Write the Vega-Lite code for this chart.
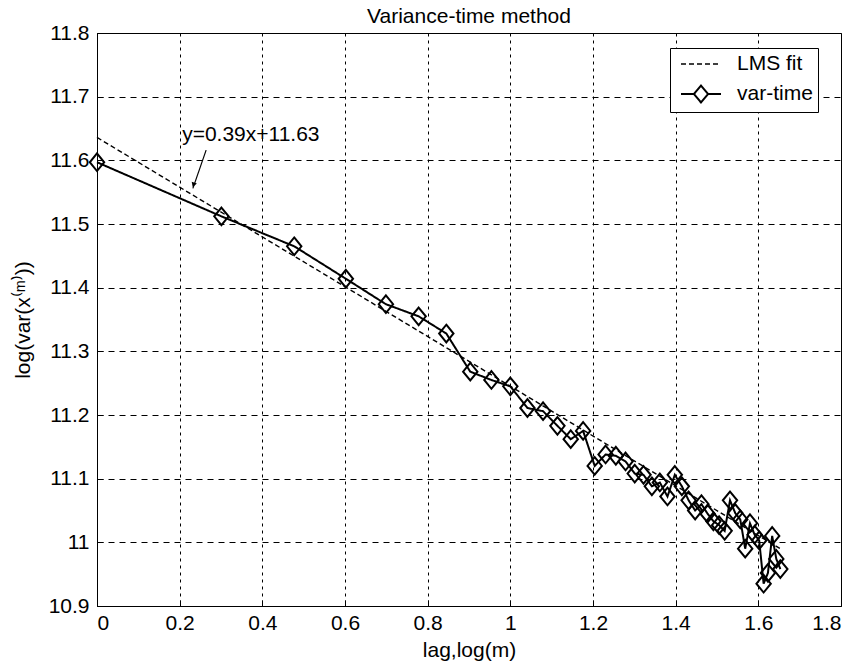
{
  "$schema": "https://vega.github.io/schema/vega-lite/v6.json",
  "autosize": {"type": "none"},
  "padding": {"left": 97, "top": 33, "right": 17, "bottom": 61},
  "width": 744,
  "height": 573,
  "background": "white",
  "title": {"text": "Variance-time method", "fontSize": 21, "fontWeight": "normal", "font": "Liberation Sans", "color": "black", "offset": 9, "dy": 14, "anchor": "middle"},
  "config": {
    "view": {"stroke": "black", "strokeWidth": 1},
    "axis": {
      "labelFont": "Liberation Sans", "labelFontSize": 21, "labelColor": "black",
      "titleFont": "Liberation Sans", "titleFontSize": 21, "titleFontWeight": "normal", "titleColor": "black",
      "domainColor": "black", "tickColor": "black", "tickSize": -6,
      "gridColor": "black", "gridOpacity": 1, "gridWidth": 1
    },
    "legend": {
      "title": null, "orient": "none", "legendX": 573, "legendY": 15,
      "padding": 5, "strokeColor": "black", "fillColor": "white",
      "symbolSize": 400, "symbolStrokeWidth": 1.8, "symbolStrokeColor": "black", "symbolFillColor": "transparent", "symbolOpacity": 1,
      "labelFontSize": 21, "labelFont": "Liberation Sans", "labelColor": "black",
      "labelOffset": 40, "rowPadding": 7
    }
  },
  "datasets": {
    "series": [
      {"x": 0, "y": 11.636, "series": "LMS fit"},
      {"x": 1.653, "y": 10.99, "series": "LMS fit"},
      {"x": 0, "y": 11.597, "series": "var-time"},
      {"x": 0.30103, "y": 11.512, "series": "var-time"},
      {"x": 0.47712, "y": 11.465, "series": "var-time"},
      {"x": 0.60206, "y": 11.414, "series": "var-time"},
      {"x": 0.69897, "y": 11.374, "series": "var-time"},
      {"x": 0.77815, "y": 11.355, "series": "var-time"},
      {"x": 0.8451, "y": 11.328, "series": "var-time"},
      {"x": 0.90309, "y": 11.268, "series": "var-time"},
      {"x": 0.95424, "y": 11.255, "series": "var-time"},
      {"x": 1.0, "y": 11.245, "series": "var-time"},
      {"x": 1.04139, "y": 11.211, "series": "var-time"},
      {"x": 1.07918, "y": 11.206, "series": "var-time"},
      {"x": 1.11394, "y": 11.183, "series": "var-time"},
      {"x": 1.14613, "y": 11.162, "series": "var-time"},
      {"x": 1.17609, "y": 11.175, "series": "var-time"},
      {"x": 1.20412, "y": 11.12, "series": "var-time"},
      {"x": 1.23045, "y": 11.138, "series": "var-time"},
      {"x": 1.25527, "y": 11.136, "series": "var-time"},
      {"x": 1.27875, "y": 11.127, "series": "var-time"},
      {"x": 1.30103, "y": 11.108, "series": "var-time"},
      {"x": 1.32222, "y": 11.106, "series": "var-time"},
      {"x": 1.34242, "y": 11.088, "series": "var-time"},
      {"x": 1.36173, "y": 11.094, "series": "var-time"},
      {"x": 1.38021, "y": 11.072, "series": "var-time"},
      {"x": 1.39794, "y": 11.106, "series": "var-time"},
      {"x": 1.41497, "y": 11.088, "series": "var-time"},
      {"x": 1.43136, "y": 11.066, "series": "var-time"},
      {"x": 1.44716, "y": 11.05, "series": "var-time"},
      {"x": 1.4624, "y": 11.06, "series": "var-time"},
      {"x": 1.47712, "y": 11.045, "series": "var-time"},
      {"x": 1.49136, "y": 11.033, "series": "var-time"},
      {"x": 1.50515, "y": 11.027, "series": "var-time"},
      {"x": 1.51851, "y": 11.018, "series": "var-time"},
      {"x": 1.53148, "y": 11.066, "series": "var-time"},
      {"x": 1.54407, "y": 11.046, "series": "var-time"},
      {"x": 1.5563, "y": 11.036, "series": "var-time"},
      {"x": 1.5682, "y": 10.99, "series": "var-time"},
      {"x": 1.57978, "y": 11.03, "series": "var-time"},
      {"x": 1.59106, "y": 11.012, "series": "var-time"},
      {"x": 1.60206, "y": 11.003, "series": "var-time"},
      {"x": 1.61278, "y": 10.935, "series": "var-time"},
      {"x": 1.62325, "y": 10.952, "series": "var-time"},
      {"x": 1.63347, "y": 11.01, "series": "var-time"},
      {"x": 1.64345, "y": 10.974, "series": "var-time"},
      {"x": 1.65321, "y": 10.958, "series": "var-time"}
    ],
    "note": [{"x": 0.206, "y": 11.64, "label": "y=0.39x+11.63"}],
    "arrow": [{"x": 0.264, "y": 11.616, "x2": 0.232, "y2": 11.556}],
    "arrowhead": [{"x": 0.2335, "y": 11.5615}]
  },
  "encoding": {
    "x": {"field": "x", "type": "quantitative",
      "scale": {"domain": [0, 1.8], "nice": false, "zero": false},
      "axis": {"title": "lag,log(m)", "values": [0, 0.2, 0.4, 0.6, 0.8, 1, 1.2, 1.4, 1.6, 1.8], "format": ".1~f", "gridDash": [3, 4], "labelPadding": 12, "titlePadding": 6}},
    "y": {"field": "y", "type": "quantitative",
      "scale": {"domain": [10.9, 11.8], "nice": false, "zero": false},
      "axis": {"title": "log(var(x⁽ᵐ⁾))", "values": [10.9, 11, 11.1, 11.2, 11.3, 11.4, 11.5, 11.6, 11.7, 11.8], "format": ".1~f", "gridDash": [6, 5], "labelPadding": 14, "titlePadding": 15}}
  },
  "layer": [
    {
      "data": {"name": "series"},
      "mark": {"type": "line", "color": "black"},
      "encoding": {
        "strokeDash": {"field": "series", "type": "nominal",
          "scale": {"domain": ["LMS fit", "var-time"], "range": [[5, 3], [1, 0]]},
          "legend": {"title": null}},
        "strokeWidth": {"field": "series", "type": "nominal",
          "scale": {"domain": ["LMS fit", "var-time"], "range": [1.4, 2]}, "legend": null}
      }
    },
    {
      "data": {"name": "series"},
      "transform": [{"filter": "datum.series == 'var-time'"}],
      "mark": {"type": "point", "shape": "M0,-1.1L0.9,0L0,1.1L-0.9,0Z", "size": 256, "filled": false, "stroke": "black", "strokeWidth": 2, "opacity": 1}
    },
    {
      "data": {"name": "series"},
      "mark": {"type": "point", "size": 0, "filled": false, "stroke": "black"},
      "encoding": {
        "shape": {"field": "series", "type": "nominal",
          "scale": {"domain": ["LMS fit", "var-time"], "range": ["M-0.5,0H3.5", "M1.5,-0.85L2.2,0L1.5,0.85L0.8,0ZM-0.5,0H0.8M2.2,0H3.5"]},
          "legend": {"title": null}}
      }
    },
    {
      "data": {"name": "note"},
      "mark": {"type": "text", "align": "left", "baseline": "middle", "font": "Liberation Sans", "fontSize": 21, "color": "black"},
      "encoding": {"text": {"field": "label"}}
    },
    {
      "data": {"name": "arrow"},
      "mark": {"type": "rule", "color": "black", "strokeWidth": 1.2},
      "encoding": {"x2": {"field": "x2"}, "y2": {"field": "y2"}}
    },
    {
      "data": {"name": "arrowhead"},
      "mark": {"type": "point", "shape": "triangle-down", "angle": 19, "size": 30, "filled": true, "color": "black", "opacity": 1}
    }
  ]
}
